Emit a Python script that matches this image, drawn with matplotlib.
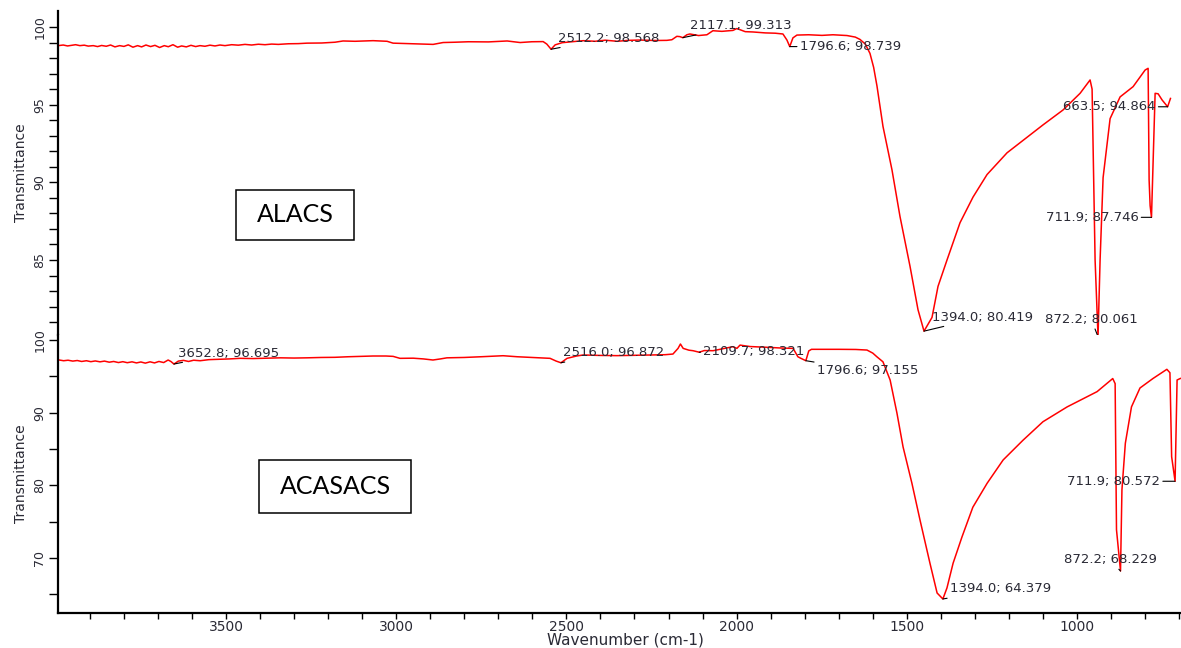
import matplotlib
matplotlib.use('Agg')
from matplotlib import pyplot as plt
from matplotlib.patches import Rectangle

# ALACS spectrum (wavenumber, transmittance)
alacs_wn = [3990, 3975, 3962, 3950, 3938, 3925, 3912, 3900, 3885, 3872, 3860, 3846, 3833, 3820, 3806,
            3793, 3780, 3766, 3752, 3740, 3727, 3713, 3700, 3686, 3672, 3660, 3646, 3632, 3620, 3606,
            3592, 3578, 3565, 3550, 3535, 3520, 3505, 3490, 3470, 3450, 3430, 3410, 3390, 3370, 3350,
            3330, 3300, 3270, 3244, 3200, 3160, 3136, 3100, 3070, 3046, 3004, 2986, 2940, 2900, 2866,
            2836, 2800, 2760, 2700, 2644, 2605, 2570, 2536, 2525, 2512.2, 2500, 2479, 2450, 2416, 2380,
            2350, 2314, 2280, 2246, 2200, 2165, 2150, 2135, 2126, 2117.1, 2105, 2096, 2070, 2045, 2027,
            2000, 1967, 1955, 1930, 1907, 1870, 1840, 1817, 1805, 1796.6, 1787, 1775, 1740, 1700, 1667,
            1625, 1600, 1586, 1570, 1556, 1545, 1535, 1517, 1490, 1466, 1436, 1412, 1394, 1370, 1352,
            1325, 1286, 1247, 1205, 1145, 1097, 1037, 977, 926, 896, 890, 881, 872.2, 866, 857,
            836, 806, 767, 731, 722, 719, 716, 711.9, 707, 701, 692, 680, 663.5, 655]
alacs_tr = [98.80, 98.84, 98.78, 98.82, 98.86, 98.80, 98.83, 98.77, 98.80, 98.74, 98.81, 98.76, 98.84, 98.72, 98.80,
            98.75, 98.85, 98.70, 98.80, 98.72, 98.84, 98.74, 98.82, 98.68, 98.80, 98.73, 98.86, 98.70, 98.78, 98.72,
            98.82, 98.74, 98.80, 98.76, 98.83, 98.78, 98.84, 98.80, 98.86, 98.83, 98.88, 98.84, 98.89, 98.86, 98.90,
            98.88, 98.92, 98.93, 98.96, 98.97, 99.02, 99.10, 99.08, 99.10, 99.12, 99.08, 98.96, 98.93, 98.90, 98.88,
            99.00, 99.02, 99.05, 99.04, 99.10, 99.00, 99.05, 99.06, 98.90, 98.568, 98.85, 98.99, 99.05, 99.12, 99.08,
            99.15, 99.08, 99.14, 99.16, 99.13, 99.14, 99.18, 99.40, 99.38, 99.313, 99.50, 99.55, 99.45, 99.50, 99.76,
            99.72, 99.78, 99.90, 99.70, 99.68, 99.62, 99.60, 99.55, 99.16, 98.739, 99.30, 99.48, 99.50, 99.46, 99.50,
            99.45, 99.35, 99.20, 98.90, 98.30, 97.40, 96.20, 93.60, 90.80, 87.80, 84.60, 81.80, 80.419, 81.30, 83.30,
            85.00, 87.40, 89.05, 90.50, 91.90, 92.70, 93.70, 94.66, 95.73, 96.59, 96.00, 85.00, 80.061, 85.00, 90.30,
            94.10, 95.50, 96.16, 97.23, 97.34, 90.15, 88.50, 87.746, 91.40, 95.73, 95.70, 95.30, 94.864, 95.40]

# ACASACS spectrum
acas_wn = [3990, 3977, 3964, 3950, 3937, 3924, 3910, 3897, 3884, 3870, 3857, 3843, 3830, 3816, 3803,
           3790, 3776, 3763, 3750, 3737, 3723, 3710, 3697, 3683, 3670, 3662, 3652.8, 3640, 3625, 3610,
           3595, 3576, 3550, 3520, 3490, 3459, 3420, 3380, 3340, 3300, 3262, 3220, 3180, 3140, 3100,
           3068, 3030, 3009, 2989, 2950, 2920, 2892, 2870, 2851, 2800, 2750, 2700, 2686, 2645, 2600,
           2548, 2530, 2516.0, 2498, 2470, 2451, 2400, 2351, 2300, 2254, 2210, 2187, 2172, 2165, 2157,
           2140, 2128, 2109.7, 2095, 2069, 2040, 2011, 1999, 1990, 1960, 1911, 1870, 1834, 1820, 1812,
           1796.6, 1788, 1780, 1700, 1650, 1617, 1600, 1588, 1570, 1549, 1529, 1511, 1485, 1461, 1432,
           1411, 1394, 1382, 1364, 1338, 1306, 1264, 1217, 1159, 1100, 1029, 941, 895, 888, 884,
           872.2, 868, 858, 840, 815, 777, 736, 727, 722, 711.9, 706, 697, 690]
acas_tr = [97.25, 97.15, 97.22, 97.10, 97.18, 97.05, 97.15, 97.02, 97.12, 97.00, 97.10, 96.95, 97.05, 96.90, 97.02,
           96.88, 97.00, 96.85, 96.98, 96.82, 97.00, 96.85, 97.05, 96.90, 97.25, 97.05, 96.695, 97.10, 97.20, 97.05,
           97.22, 97.15, 97.30, 97.35, 97.40, 97.48, 97.45, 97.50, 97.55, 97.52, 97.55, 97.60, 97.62, 97.70, 97.75,
           97.80, 97.80, 97.75, 97.48, 97.50, 97.40, 97.25, 97.40, 97.55, 97.60, 97.70, 97.82, 97.84, 97.70, 97.60,
           97.48, 97.10, 96.872, 97.48, 97.80, 97.94, 97.88, 97.85, 97.90, 97.94, 97.98, 98.07, 98.85, 99.45, 98.85,
           98.60, 98.53, 98.321, 98.55, 98.53, 98.80, 99.08, 98.85, 99.30, 99.10, 99.00, 98.90, 98.85, 97.70, 97.50,
           97.155, 98.50, 98.72, 98.72, 98.70, 98.62, 98.20, 97.70, 97.00, 94.50, 89.96, 85.30, 80.30, 75.20, 69.30,
           65.20, 64.379, 65.90, 69.30, 72.90, 77.00, 80.30, 83.50, 86.20, 88.76, 90.80, 92.90, 94.70, 94.00, 73.90,
           68.229, 79.40, 85.80, 90.80, 93.40, 94.70, 95.97, 95.50, 83.95, 80.572, 94.50, 94.70, 94.80]

# labelled peaks
alacs_peak_wn = [2512.2, 2117.1, 1796.6, 663.5, 711.9, 1394.0, 872.2]
alacs_peak_tr = [98.568, 99.313, 98.739, 94.864, 87.746, 80.419, 80.061]
acas_peak_wn = [3652.8, 2516.0, 2109.7, 1796.6, 1394.0, 872.2, 711.9]
acas_peak_tr = [96.695, 96.872, 98.321, 97.155, 64.379, 68.229, 80.572]

# label offsets in pixels (dx, dy up) and alignment
alacs_offsets = [(7, 11, 'left'), (7, 12, 'left'), (10, 0, 'left'), (-12, 0, 'right'),
                 (-13, 0, 'right'), (8, 14, 'left'), (-53, 17, 'left')]
acas_offsets = [(4, 11, 'left'), (2, 10, 'left'), (4, 1, 'left'), (11, -10, 'left'),
                (7, 10, 'left'), (-57, 11, 'left'), (-15, 0, 'right')]

W, H = 1181, 648
fig = plt.figure(figsize=(W / 100, H / 100), dpi=100)
textcol = '#2a2a35'

def px_box(x0, y0, x1, y1):
    return [x0 / W, 1 - y1 / H, (x1 - x0) / W, (y1 - y0) / H]

ax1 = fig.add_axes(px_box(58, 11, 1181, 335))
ax2 = fig.add_axes(px_box(58, 335, 1181, 613))

def style(ax, ylim, xlim, major, minor):
    ax.set_xlim(*xlim)
    ax.set_ylim(*ylim)
    for s in ['top', 'right']:
        ax.spines[s].set_visible(False)
    ax.spines['left'].set_linewidth(1.6)
    ax.set_yticks(minor, minor=True)
    ax.set_yticks(major)
    ax.set_yticklabels([str(m) for m in major], rotation=90, va='center')
    ax.tick_params(axis='y', which='both', direction='out', length=6.5, width=1,
                   labelsize=9, pad=2, labelcolor=textcol)
    ax.set_ylabel('Transmittance', fontsize=10, color=textcol)
    ax.yaxis.set_label_coords(-0.027, 0.5)

ax1.plot(alacs_wn, alacs_tr, color='#ff0000', lw=1.1, clip_on=False)
ax2.plot(acas_wn, acas_tr, color='#ff0000', lw=1.1, clip_on=False)

style(ax1, (80.17, 101.03), (3990.7, 623.4), [85, 90, 95, 100], list(range(81, 101)))
style(ax2, (62.45, 100.69), (3993.5, 694.5), [70, 80, 90, 100], [65, 70, 75, 80, 85, 90, 95, 100])

ax1.spines['bottom'].set_visible(False)
ax1.set_xticks([])
ax2.spines['bottom'].set_linewidth(1.6)
ax2.set_xticks(list(range(3500, 999, -500)))
ax2.set_xticks(list(range(3900, 699, -100)), minor=True)
ax2.tick_params(axis='x', which='both', direction='out', length=4.5, width=1,
                labelsize=10, pad=0.5, labelcolor=textcol)
ax2.set_xlabel('Wavenumber (cm-1)', fontsize=11, color=textcol)
ax2.xaxis.set_label_coords(0.505, -0.07)

def label_peaks(ax, wn, tr, offsets):
    for w, t, (dx, dy, ha) in zip(wn, tr, offsets):
        ax.annotate(f'{w:.1f}; {t:.3f}', xy=(w, t), xytext=(dx * 0.72, dy * 0.72),
                    textcoords='offset points', ha=ha, va='center', fontsize=9.5,
                    color=textcol, annotation_clip=False,
                    arrowprops=dict(arrowstyle='-', color='black', lw=0.8,
                                    shrinkA=0, shrinkB=0))

label_peaks(ax1, alacs_peak_wn, alacs_peak_tr, alacs_offsets)
label_peaks(ax2, acas_peak_wn, acas_peak_tr, acas_offsets)

# sample name boxes
for (x0, y0, x1, y1), name in [((236, 190, 354, 240), 'ALACS'), ((259, 460, 411, 513), 'ACASACS')]:
    fig.add_artist(Rectangle((x0 / W, 1 - y1 / H), (x1 - x0) / W, (y1 - y0) / H,
                             transform=fig.transFigure, fill=False, lw=1.1, color='black'))
    fig.text((x0 + x1) / 2 / W, 1 - (y0 + y1) / 2 / H, name, ha='center', va='center',
             fontsize=18, family='Lato', color='black')

plt.savefig('out.png', dpi=100)
